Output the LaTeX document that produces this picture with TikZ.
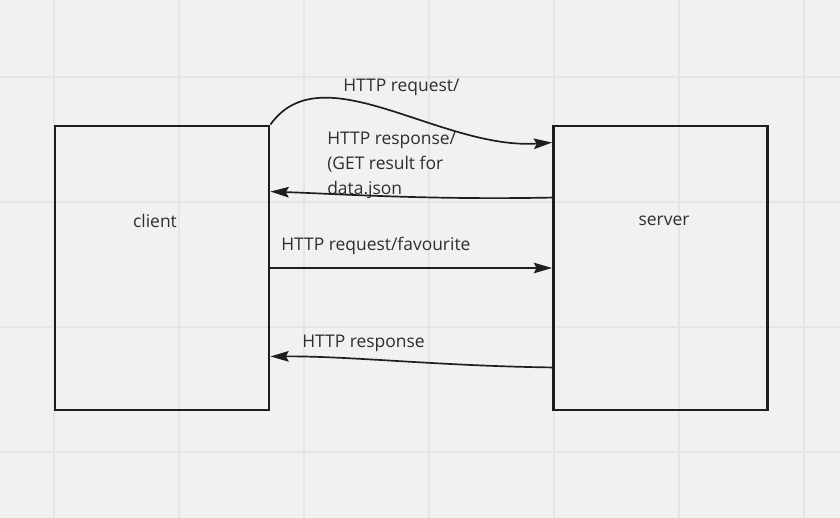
\documentclass[tikz,border=0pt]{standalone}
\usepackage{fontspec}
\setmainfont{Open Sans}
\usetikzlibrary{arrows.meta}
\definecolor{canvas}{HTML}{F1F1F1}
\definecolor{gridline}{HTML}{E5E5E5}
\definecolor{ink}{HTML}{1E1E1E}
\definecolor{txt}{HTML}{2E2E2E}

\begin{document}
\begin{tikzpicture}[x=0.025cm, y=-0.025cm,
    box/.style={draw=ink, line width=2pt, minimum width=5.35cm, minimum height=7.1cm, inner sep=0pt},
    msg/.style={draw=ink, line width=1.2pt, -{Stealth[length=13pt, width=7.5pt, inset=2pt]}},
    lbl/.style={anchor=west, inner sep=0pt, text=txt, font=\fontsize{12.4}{17.8}\selectfont, align=left}]
    \useasboundingbox (0,0) rectangle (840,518);
    \fill[canvas] (0,0) rectangle (840,518);
    \foreach \gx in {54,179,...,804}
        \draw[gridline, line width=1pt] (\gx,0) -- (\gx,518);
    \foreach \gy in {77,202,327,452}
        \draw[gridline, line width=1pt] (0,\gy) -- (840,\gy);

    \node[box] (client) at (162,268) {};
    \node[box] (server) at (660.5,268) {};
    \node[lbl, anchor=center] (clientlbl) at (155,221) {client};
    \node[lbl, anchor=center] (serverlbl) at (664,221) {server};

    \node[lbl] (req1) at (343,87) {HTTP request/};
    \node[lbl, anchor=north west] (resp1) at (327,132) {HTTP response/\\(GET result for\\data.json};
    \node[lbl] (req2) at (281,246) {HTTP request/favourite};
    \node[lbl] (resp2) at (302,343) {HTTP response};

    \draw[msg] (client.north east) .. controls (322,52) and (440,150) .. ([shift={(0,18)}]server.north west);
    \draw[msg] ([shift={(0,73)}]server.north west) .. controls (430,200) and (340,194) .. ([shift={(0,67)}]client.north east);
    \draw[msg] (client.east) -- (server.west);
    \draw[msg] ([shift={(0,-44)}]server.south west) .. controls (440,366) and (350,356) .. ([shift={(0,-55)}]client.south east);
\end{tikzpicture}
\end{document}
